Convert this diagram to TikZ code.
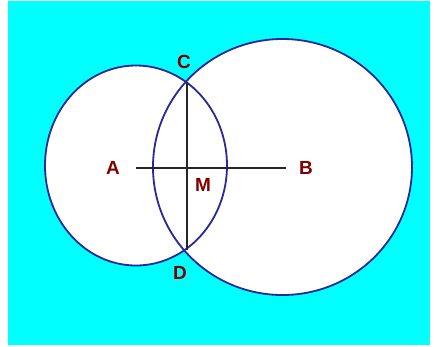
\documentclass[tikz,border=0pt]{standalone}
\usepackage{fontspec}
\setmainfont{Liberation Sans}
\definecolor{bgcyan}{RGB}{0,255,255}
\definecolor{circblue}{RGB}{40,40,150}
\definecolor{labred}{RGB}{128,0,0}
\begin{document}
\begin{tikzpicture}[x=1pt,y=-1pt,
  circ/.style={draw=circblue,line width=1.8pt},
  seg/.style={draw=black!85,line width=2pt},
  lab/.style={text=labred,font=\fontsize{19}{19}\selectfont\bfseries,inner sep=0pt}]
\useasboundingbox (0,0) rectangle (437,346);
\fill[white] (0,0) rectangle (437,346);
\fill[bgcyan] (8,1) rectangle (430,345);
% filled shapes
\fill[white] (136,165.5) ellipse [x radius=91, y radius=100];
\fill[white] (282.5,167) ellipse [x radius=129.5, y radius=128];
\draw[circ] (136,165.5) ellipse [x radius=91, y radius=100];
\draw[circ] (282.5,167) ellipse [x radius=129.5, y radius=128];
% construction points
\coordinate (pA) at (136,168);
\coordinate (pB) at (286,168);
\coordinate (pC) at (187,82);
\coordinate (pD) at (187,250);
\draw[seg] (pA) -- (pB);
\draw[seg] (pC) -- (pD);
% labels
\node[lab] (A) at (113,168) {A};
\node[lab] (B) at (306,168) {B};
\node[lab] (C) at (184,62) {C};
\node[lab] (D) at (180,273) {D};
\node[lab] (M) at (203,185) {M};
\end{tikzpicture}
\end{document}
